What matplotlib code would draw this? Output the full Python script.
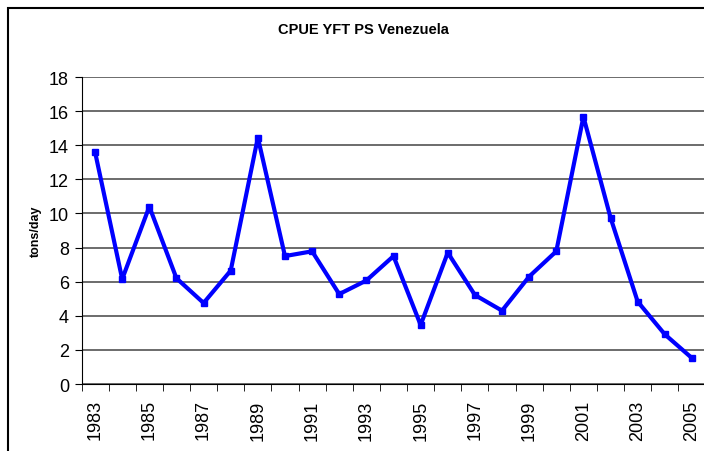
import matplotlib.pyplot as plt
import numpy as np
from matplotlib.patches import Rectangle

years = list(range(1983, 2006))
cpue = [13.6, 6.15, 10.4, 6.2, 4.75, 6.65, 14.45, 7.5, 7.78, 5.27, 6.07,
        7.5, 3.46, 7.7, 5.22, 4.3, 6.3, 7.78, 15.67, 9.75, 4.83, 2.91, 1.52]
yticks = list(range(0, 19, 2))

plt.rcParams['font.family'] = ['Liberation Sans', 'DejaVu Sans']

fig = plt.figure(figsize=(7.04, 4.52), dpi=100)
# outer chart border (runs off the right and bottom edges)
fig.patches.append(Rectangle((8 / 704, -0.05), 1.0, 1 - 9 / 452 + 0.05,
                             transform=fig.transFigure, fill=False,
                             edgecolor='black', linewidth=1.5))

ax = fig.add_axes([81.5 / 704, 1 - 385 / 452, 624 / 704, 307 / 452])
x = np.arange(len(years))
ax.plot(x, cpue, color='#0000FF', linewidth=3, marker='s', markersize=5)

ax.set_xlim(-0.5, len(years) - 0.5)
ax.set_ylim(0, 18)
ax.set_yticks(yticks)
ax.set_yticklabels([str(v) for v in yticks], fontsize=13)
ax.yaxis.grid(True, color='#606060', linewidth=1.3)
ax.set_axisbelow(True)

ax.set_xticks(x[::2])
ax.set_xticklabels([str(y) for y in years[::2]], rotation=90, fontsize=13)
ax.set_xticks(np.arange(-0.5, len(years)), minor=True)
ax.tick_params(axis='x', which='major', length=0, pad=11)
ax.tick_params(axis='x', which='minor', length=5, direction='out')
ax.tick_params(axis='y', length=5, direction='out', pad=4)

for side in ['top', 'right']:
    ax.spines[side].set_visible(False)

ax.set_ylabel('tons/day', fontsize=9, fontweight='bold', labelpad=5)
fig.text(363 / 704, 1 - 30 / 452, 'CPUE YFT PS Venezuela', ha='center',
         va='center', fontsize=10.5, fontweight='bold')

fig.savefig('out.png', dpi=100)
